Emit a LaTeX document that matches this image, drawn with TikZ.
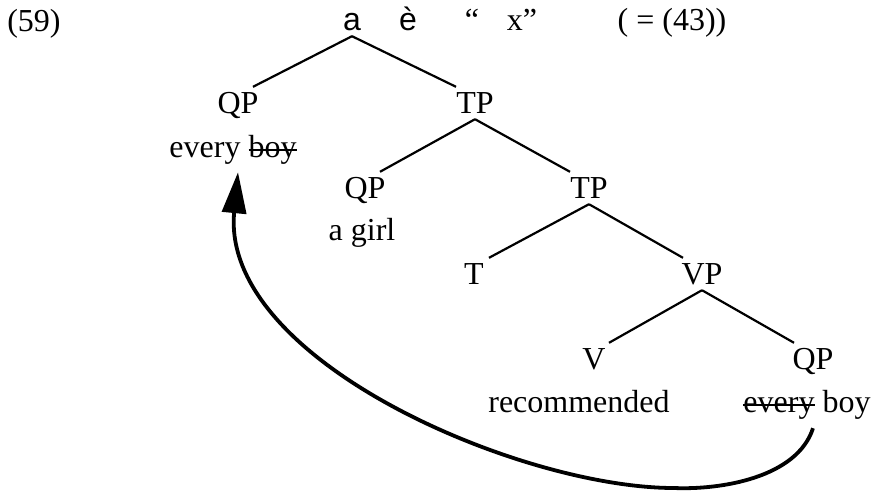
\documentclass[tikz,border=0pt]{standalone}
\usepackage{fontspec}
\setmainfont{Liberation Serif}
\setsansfont{Liberation Sans}
\usetikzlibrary{arrows.meta}
\newcommand{\struck}[1]{\setbox0\hbox{#1}\rlap{\rule[0.2em]{\wd0}{1.8pt}}\box0\relax}
\begin{document}
\begin{tikzpicture}[x=1pt,y=-1pt,
  lab/.style={font=\fontsize{32}{38}\selectfont,inner sep=0pt,anchor=base,
    text height=22pt,text depth=6pt},
  labsf/.style={lab,font=\fontsize{32}{38}\selectfont\sffamily},
  branch/.style={line width=2.2pt},
  move/.style={line width=3.8pt,-{Triangle[length=41pt,width=24pt]}}]
  \useasboundingbox (0,0) rectangle (873,491);
  \node[lab] (ex) at (34,31) {(59)};
  \node[labsf] (root) at (352,30) {a};
  \node[labsf] (grave) at (408,30) {è};
  \node[lab] (lq) at (472,30) {“};
  \node[lab] (var) at (522,30) {x”};
  \node[lab] (same) at (672,30) {( = (43))};
  \node[lab] (qpA) at (238,113) {QP};
  \node[lab] (tpA) at (475,113) {TP};
  \node[lab] (evA) at (233,157) {every \struck{boy}};
  \node[lab] (qpB) at (365,198) {QP};
  \node[lab] (tpB) at (589,198) {TP};
  \node[lab] (girl) at (362,240) {a girl};
  \node[lab] (tT) at (474,284) {T};
  \node[lab] (vpA) at (702,284) {VP};
  \node[lab] (vV) at (594,369) {V};
  \node[lab] (qpC) at (813,369) {QP};
  \node[lab] (rec) at (579,412) {recommended};
  \node[lab] (evB) at (807,412) {\struck{every} boy};
  \foreach \p/\l/\r in {root/qpA/tpA, tpA/qpB/tpB, tpB/tT/vpA, vpA/vV/qpC} {
    \draw[branch] (\p.south) -- ([xshift=15pt,yshift=4pt]\l.north);
    \draw[branch] (\p.south) -- ([xshift=-19pt,yshift=4pt]\r.north);
  }
  \draw[move] ([xshift=6pt,yshift=-10pt]evB.south)
    .. controls (797,478) and (720,490) .. (674,488)
    .. controls (520,488) and (220,360) .. ([xshift=5pt,yshift=-9pt]evA.south);
\end{tikzpicture}
\end{document}
